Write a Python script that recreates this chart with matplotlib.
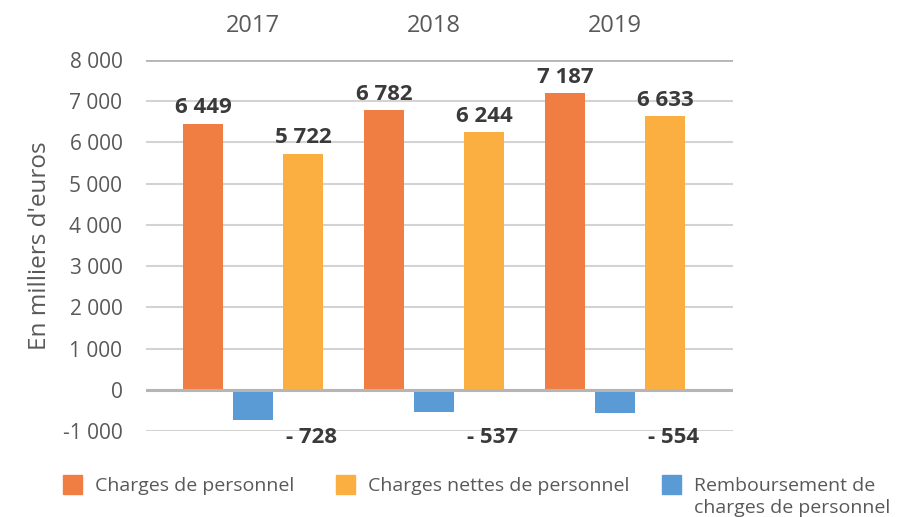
import numpy as np
import matplotlib.pyplot as plt
from matplotlib.patches import Rectangle

plt.rcParams['font.family'] = ['Open Sans', 'DejaVu Sans']

years = ['2017', '2018', '2019']
charges = [6449, 6782, 7187]
remboursement = [-728, -537, -554]
charges_nettes = [5722, 6244, 6633]

C_ORANGE = '#F07E42'
C_YELLOW = '#FBAF40'
C_BLUE = '#5B9BD5'
TXT = '#595959'
LBL = '#3a3a3a'


def fmt(v):
    s = '{:,}'.format(abs(v)).replace(',', ' ')
    return ('- ' + s) if v < 0 else s


fig = plt.figure(figsize=(9.13, 5.17), dpi=100)
ax = fig.add_axes([0.160, 0.1663, 0.643, 0.7177])

x = np.arange(len(years))
off = 0.276
w = 0.221
ax.bar(x - off, charges, w, color=C_ORANGE, zorder=3)
ax.bar(x, remboursement, w, color=C_BLUE, zorder=3)
ax.bar(x + off, charges_nettes, w, color=C_YELLOW, zorder=3)

ax.set_ylim(-1000, 8000)
ax.set_xlim(-0.591, 2.652)
yt = np.arange(-1000, 8001, 1000)
ax.set_yticks(yt)
ax.set_yticklabels([fmt(v).replace('- ', '-') for v in yt])
ax.tick_params(axis='y', length=0, pad=17, labelsize=15, labelcolor=TXT)
ax.set_xticks([])
for s in ax.spines.values():
    s.set_visible(False)
ax.grid(axis='y', color='#d3d3d3', lw=1.5, zorder=0)
ax.axhline(0, color='#b5b5b5', lw=2.2, zorder=4)
ax.axhline(8000, color='#b5b5b5', lw=2.0, zorder=4)

# year labels on top
for i, yr in enumerate(years):
    ax.text(i, 1.058, yr, transform=ax.get_xaxis_transform(), ha='center',
            va='bottom', fontsize=17, color=TXT)

# value labels
for i in range(len(years)):
    ax.annotate(fmt(charges[i]), (x[i] - off, charges[i]), xytext=(0, 4),
                textcoords='offset points', ha='center', va='bottom',
                fontsize=16, fontweight='bold', color=LBL)
    ax.annotate(fmt(charges_nettes[i]), (x[i] + off, charges_nettes[i]), xytext=(0, 4),
                textcoords='offset points', ha='center', va='bottom',
                fontsize=16, fontweight='bold', color=LBL)
    ax.text(x[i] + off + 0.045, -1150, fmt(remboursement[i]), ha='center',
            va='center', fontsize=16, fontweight='bold', color=LBL)

ax.set_ylabel("En milliers d'euros", fontsize=17.5, color=TXT, labelpad=8)

# legend drawn by hand (figure pixel positions)
W, H = 913, 517
leg_items = [(63, C_ORANGE, 'Charges de personnel'),
             (336, C_YELLOW, 'Charges nettes de personnel'),
             (662, C_BLUE, 'Remboursement de\ncharges de personnel')]
for px, col, txt in leg_items:
    fig.add_artist(Rectangle((px / W, 1 - 494 / H), 19 / W, 19 / H,
                             transform=fig.transFigure, color=col))
    fig.text((px + 32) / W, 1 - 477 / H, txt, ha='left', va='top',
             fontsize=14, color=TXT, linespacing=1.3)

fig.savefig('out.png', dpi=100)
